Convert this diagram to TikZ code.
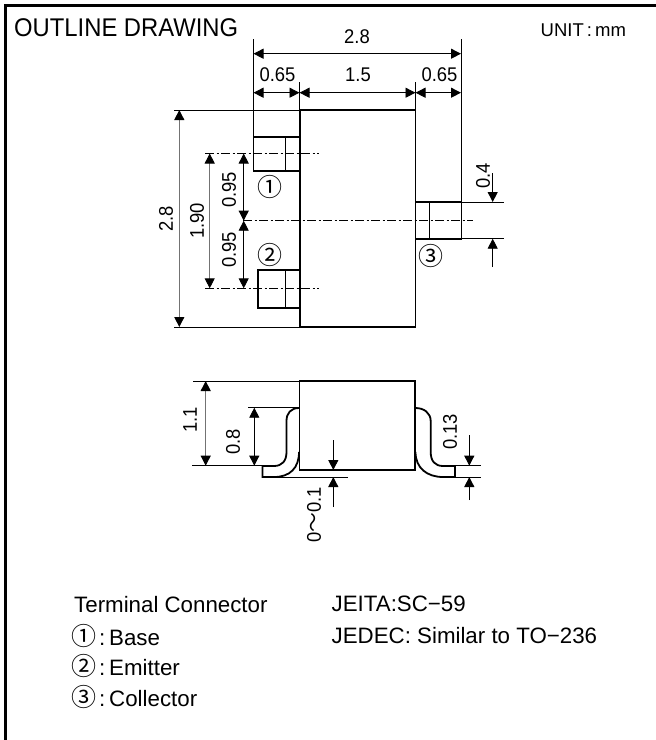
\documentclass[tikz,border=0pt]{standalone}
\usepackage{fontspec}
\setmainfont{Liberation Sans}
\newfontfamily\circfont{Noto Sans CJK JP}
\newfontfamily\tallfont[FakeStretch=0.93]{Liberation Sans}
\usetikzlibrary{arrows.meta}
\newcommand{\legmark}[1]{\makebox[22pt][c]{\fontsize{25}{25}\circfont #1}\makebox[14pt][c]{\rmfamily :}\rmfamily}
\tikzset{
 x=1pt,y=-1pt,
 outline/.style={line width=1.8pt,line join=miter},
 thinl/.style={line width=0.9pt,black},
 dimline/.style={line width=0.9pt,{Triangle[length=10pt,width=10pt]}-{Triangle[length=10pt,width=10pt]}},
 grayd/.style={dimline,draw=black!55,{Triangle[length=10pt,width=10pt,black]}-{Triangle[length=10pt,width=10pt,black]}},
 inarrow/.style={line width=0.9pt,-{Triangle[length=10pt,width=10pt]}},
 center/.style={line width=0.7pt,dash pattern=on 9pt off 2.5pt on 2pt off 2.5pt},
 dimtext/.style={inner sep=0pt,font=\fontsize{19.8}{19.8}\tallfont},
 vtext/.style={dimtext,rotate=90},
 circ/.style={inner sep=0pt,font=\fontsize{25}{25}\circfont},
 bigt/.style={inner sep=0pt,anchor=base west,font=\fontsize{25.6}{25.6}\tallfont},
 term/.style={inner sep=0pt,anchor=base west,font=\fontsize{22.3}{22.3}\selectfont},
}
\begin{document}
\begin{tikzpicture}
\useasboundingbox (0,0) rectangle (656,740);
\fill[white] (0,0) rectangle (656,740);
% frame
\draw[line width=3pt] (5.5,740) -- (5.5,5) -- (656,5);
\node[bigt] (title) at (14,36) {OUTLINE DRAWING};
\node[inner sep=0pt,anchor=base west,font=\fontsize{18.5}{18.5}\selectfont] (unit) at (540.5,36.5) {UNIT\,:\,mm};
% centre lines
\draw[center] (205,153.5) -- (319,153.5);
\draw[center] (205,288.3) -- (319,288.3);
\draw[center] (243,220.7) -- (473,220.7);
% extension lines
\draw[thinl] (253.5,39) -- (253.5,137);
\draw[thinl] (299.5,82) -- (299.5,110);
\draw[thinl] (415.5,82) -- (415.5,110);
\draw[thinl] (461,39) -- (461,202);
\draw[thinl] (174,110) -- (300,110);
\draw[thinl] (174,327) -- (300,327);
\draw[thinl] (461,202) -- (504,202);
\draw[thinl] (461,238.7) -- (504,238.7);
% top view body and leads
\draw[outline] (300,110) rectangle (415.5,327);
\draw[outline] (253.5,137) rectangle (300,171);
\draw[thinl] (285,137) -- (285,171);
\draw[outline] (258,270) rectangle (300,308);
\draw[thinl] (285,270) -- (285,308);
\draw[outline] (415.5,202) rectangle (461.5,238.7);
\draw[thinl] (429,202) -- (429,238.7);
% dimensions top
\draw[dimline] (253.5,53.7) -- (461,53.7);
\draw[dimline] (253.5,92.7) -- (299.5,92.7);
\draw[dimline] (299.5,92.7) -- (415.5,92.7);
\draw[dimline] (415.5,92.7) -- (461,92.7);
\node[dimtext] (d28) at (357,37) {2.8};
\node[dimtext] (d065a) at (277.5,74.5) {0.65};
\node[dimtext] (d15) at (358,74.5) {1.5};
\node[dimtext] (d065b) at (439.5,74.5) {0.65};
% dimensions left
\draw[grayd] (179.3,110) -- (179.3,327);
\draw[grayd] (209.7,153.5) -- (209.7,288.3);
\draw[dimline] (243.7,153.5) -- (243.7,220.7);
\draw[dimline] (243.7,220.7) -- (243.7,288.3);
\node[vtext] (l28) at (166,219) {2.8};
\node[vtext] (l190) at (197,221) {1.90};
\node[vtext] (l095a) at (229,190) {0.95};
\node[vtext] (l095b) at (229,250) {0.95};
\node[circ] (c1) at (270,187) {①};
\node[circ] (c2) at (270,255) {②};
\node[circ] (c3) at (431,256) {③};
% 0.4
\draw[inarrow] (492.7,173) -- (492.7,202);
\draw[inarrow] (492.7,267) -- (492.7,238.7);
\node[vtext] (d04) at (483,176) {0.4};
% side view
\draw[thinl] (193,381) -- (300,381);
\draw[thinl] (192,465.7) -- (262,465.7);
\draw[thinl] (248,407.7) -- (298,407.7);
\draw[thinl] (262,477) -- (348,477);
\draw[thinl] (455,465.7) -- (481,465.7);
\draw[thinl] (455,477) -- (481,477);
\draw[outline] (299.5,381) rectangle (415,470);
\draw[outline] (299,408) .. controls (291,408) and (286.5,413) .. (286.5,421) -- (286.5,452)
  .. controls (286.5,461) and (282,466) .. (274,466) -- (262.5,466) -- (262.5,477) -- (274,477)
  .. controls (290,477) and (299,468) .. (299,452);
\draw[outline] (415.5,408) .. controls (424,408) and (430.7,413) .. (430.7,421) -- (430.7,452)
  .. controls (430.7,461) and (435,466) .. (443,466) -- (455,466) -- (455,477) -- (443,477)
  .. controls (427,477) and (415.5,468) .. (415.5,452);
\draw[grayd] (205.7,381) -- (205.7,465.7);
\draw[dimline] (254.3,407.7) -- (254.3,465.7);
\node[vtext] (s11) at (190,420) {1.1};
\node[vtext] (s08) at (233,442) {0.8};
\draw[inarrow] (333.3,440) -- (333.3,470);
\draw[inarrow] (333.3,507) -- (333.3,477);
\node[vtext] (s01) at (314,515) {0{\circfont ～}0.1};
\draw[inarrow] (469.3,435) -- (469.3,465.7);
\draw[inarrow] (469.3,500) -- (469.3,477);
\node[vtext] (s013) at (450,432) {0.13};
% legend
\node[term] (t0) at (74,612) {Terminal Connector};
\node[term] (t1) at (73,645) {\legmark{①}Base};
\node[term] (t2) at (73,675.7) {\legmark{②}Emitter};
\node[term] (t3) at (73,706.7) {\legmark{③}Collector};
\node[term] (j1) at (331.5,611.7) {JEITA:SC\textminus 59};
\node[term] (j2) at (331.5,643.3) {JEDEC: Similar to TO\textminus 236};
\end{tikzpicture}
\end{document}
